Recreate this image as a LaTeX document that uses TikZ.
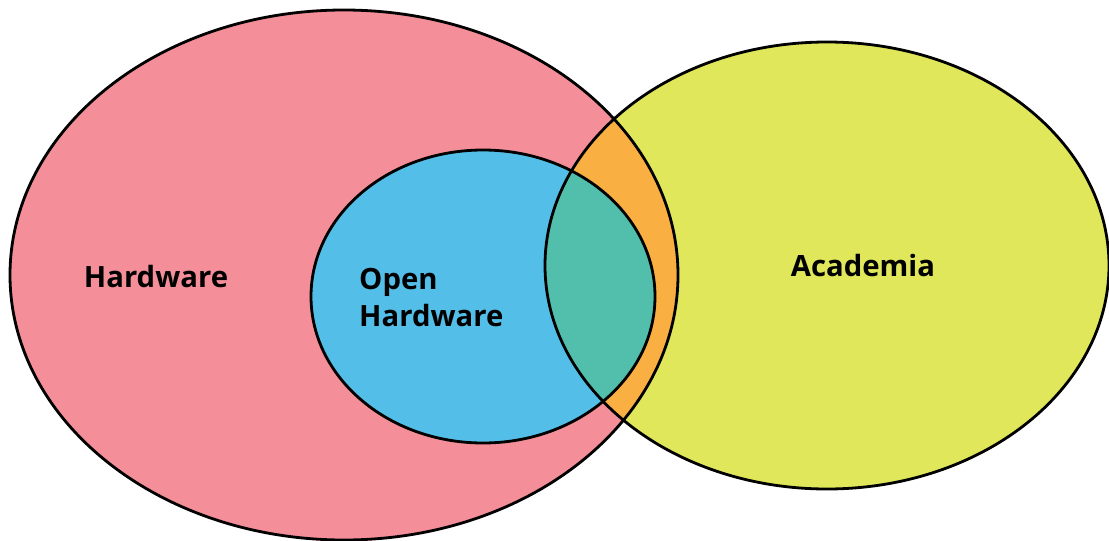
\documentclass[tikz,border=0pt]{standalone}
\usepackage{fontspec}
\setmainfont{Open Sans}
\definecolor{hwpink}{HTML}{F48F99}
\definecolor{acyellow}{HTML}{E0E75A}
\definecolor{ohblue}{HTML}{53BFE8}
\definecolor{mixorange}{HTML}{FAAF43}
\definecolor{mixteal}{HTML}{52BEAC}
\begin{document}
\begin{tikzpicture}[x=1pt,y=-1pt,
  outline/.style={draw=black,line width=2.8pt},
  setlabel/.style={font=\fontsize{29.3}{37}\selectfont\bfseries,text=black,inner sep=0pt}]
\useasboundingbox (0,0) rectangle (1109,541);
% set centres
\coordinate (hw) at (344,275);
\coordinate (ac) at (827,265.5);
\coordinate (oh) at (483,296.5);
% base fills
\fill[hwpink] (hw) ellipse [x radius=334, y radius=265];
\fill[acyellow] (ac) ellipse [x radius=282, y radius=223.5];
\fill[ohblue] (oh) ellipse [x radius=172, y radius=146.5];
% overlaps with Academia
\begin{scope}
  \clip (ac) ellipse [x radius=282, y radius=223.5];
  \fill[mixorange] (hw) ellipse [x radius=334, y radius=265];
  \fill[mixteal] (oh) ellipse [x radius=172, y radius=146.5];
\end{scope}
% outlines
\draw[outline] (hw) ellipse [x radius=334, y radius=265];
\draw[outline] (ac) ellipse [x radius=282, y radius=223.5];
\draw[outline] (oh) ellipse [x radius=172, y radius=146.5];
% labels
\node[setlabel] (hwlabel) at (156,277) {Hardware};
\node[setlabel,anchor=west,align=left] (ohlabel) at (359,298) {Open\\Hardware};
\node[setlabel] (aclabel) at (863,266) {Academia};
\end{tikzpicture}
\end{document}
